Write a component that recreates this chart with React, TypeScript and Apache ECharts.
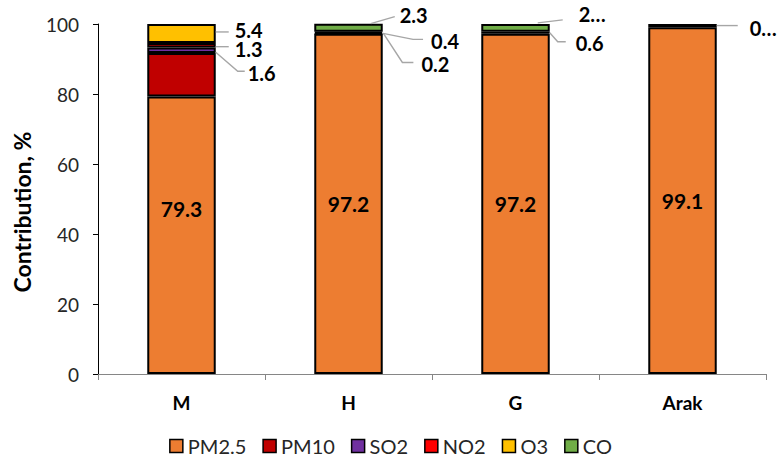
import React, { useEffect, useRef } from 'react';
import * as echarts from 'echarts';

const categories = ['M', 'H', 'G', 'Arak'];
const seriesNames = ['PM2.5', 'PM10', 'SO2', 'NO2', 'O3', 'CO'];
const pm25 = [79.3, 97.2, 97.2, 99.1];
const pm10 = [12.4, 0.2, 0, 0];
const so2 = [1.6, 0, 0, 0];
const no2 = [1.3, 0.4, 0.6, 0];
const o3 = [5.4, 0, 0, 0];
const co = [0, 2.3, 2.2, 0.9];
const seriesValues = [pm25, pm10, so2, no2, o3, co];
const colors = ['#ED7D31', '#C00000', '#7030A0', '#FF0000', '#FFC000', '#70AD47'];

const yMin = 0;
const yMax = 100;
const yStep = 20;

// labels hidden in the reference
const hiddenLabels: Record<string, number[]> = { 'PM10': [0] };
// labels shown truncated ("2…")
const truncatedLabels: Record<string, number[]> = { 'CO': [2, 3] };

// callout placement relative to (bar right edge, segment middle)
type Spot = { at: [number, number]; line: [number, number][] };
const labelSpots: Record<string, Record<number, Spot>> = {
  'SO2': { 0: { at: [32, 23], line: [[0, 2], [22, 21], [29, 21]] } },
  'NO2': {
    0: { at: [19, 3.5], line: [[0, 1.5], [13, 1.5]] },
    1: { at: [48, 9], line: [[0, 1], [30, 7], [40, 7]] },
    2: { at: [26, 10], line: [[0, 0], [8, 9], [16, 9]] },
  },
  'PM10': { 1: { at: [38, 31], line: [[0, 0], [19, 29], [30, 29]] } },
  'O3': { 0: { at: [19, -3], line: [[0, -1.5], [13, -1.5]] } },
  'CO': {
    1: { at: [17, -13], line: [[-12, -4], [12, -11]] },
    2: { at: [29, -14], line: [[-12, -5], [13, -8]] },
    3: { at: [33, 2], line: [[0, 0], [21, 0]] },
  },
};
const insideShift: Record<number, number> = { 0: -27 };

const FONT = 'Lato, "Open Sans", sans-serif';

export default function App() {
  const ref = useRef<HTMLDivElement>(null);

  useEffect(() => {
    if (!ref.current) return;
    const chart = echarts.init(ref.current, null, { renderer: 'svg' });
    const rects: Record<string, { x: number; y: number; width: number; height: number }> = {};

    const series = seriesNames.map((name, si) => {
      const isInside = si === 0;
      const data = seriesValues[si].map((v, i) => {
        if (!v) return '-';
        const hidden = (hiddenLabels[name] || []).includes(i);
        return { value: v, label: { show: !hidden } };
      });
      return {
        name,
        type: 'bar',
        stack: 'total',
        barWidth: '41%',
        data,
        itemStyle: { color: colors[si], borderColor: '#000', borderWidth: 2 },
        label: {
          show: true,
          position: isInside ? 'inside' : 'right',
          fontFamily: FONT,
          fontSize: isInside ? 21 : 20,
          lineHeight: isInside ? 24 : 17,
          fontWeight: 'bold',
          color: '#000',
          formatter: (p: any) => {
            const s = String(p.value);
            if ((truncatedLabels[name] || []).includes(p.dataIndex)) return s.charAt(0) + '…';
            return s;
          },
        },
        labelLayout: (p: any) => {
          if (isInside) {
            const d = insideShift[p.dataIndex];
            return d ? { dy: d } : {};
          }
          const spot = labelSpots[name] && labelSpots[name][p.dataIndex];
          if (!spot) return {};
          rects[name + '-' + p.dataIndex] = { x: p.rect.x, y: p.rect.y, width: p.rect.width, height: p.rect.height };
          const R = p.rect.x + p.rect.width;
          const C = p.rect.y + p.rect.height / 2;
          return { x: R + spot.at[0], y: C + spot.at[1], align: 'left', verticalAlign: 'middle' };
        },
      };
    });

    chart.setOption({
      animation: false,
      grid: { left: 98, right: 15, top: 24, bottom: 89, outerBoundsMode: 'none', containLabel: false },
      legend: {
        data: seriesNames,
        bottom: 2,
        left: 'center',
        icon: 'rect',
        itemWidth: 13,
        itemHeight: 13,
        itemGap: 16,
        itemStyle: { borderColor: '#000', borderWidth: 1.5 },
        textStyle: { fontFamily: FONT, fontSize: 20, color: '#262626' },
      },
      xAxis: {
        type: 'category',
        data: categories,
        axisLine: { lineStyle: { color: '#868686', width: 1 } },
        axisTick: { show: true, length: 6, lineStyle: { color: '#868686' } },
        axisLabel: { fontFamily: FONT, fontSize: 19, fontWeight: 'bold', color: '#000', margin: 19 },
      },
      yAxis: {
        type: 'value',
        min: yMin,
        max: yMax,
        interval: yStep,
        name: 'Contribution, %',
        nameLocation: 'middle',
        nameGap: 65,
        nameTextStyle: { fontFamily: FONT, fontSize: 23, fontWeight: 'bold', color: '#000', padding: [0, 26, 0, 0] },
        axisLine: { show: true, lineStyle: { color: '#000', width: 1 } },
        axisTick: { show: true, length: 5, lineStyle: { color: '#000' } },
        axisLabel: { fontFamily: FONT, fontSize: 19, color: '#262626', margin: 19 },
        splitLine: { show: false },
      },
      series,
    });

    const lines: any[] = [];
    Object.keys(labelSpots).forEach((name) => {
      Object.keys(labelSpots[name]).forEach((k) => {
        const r = rects[name + '-' + k];
        if (!r) return;
        const spot = labelSpots[name][Number(k)];
        const R = r.x + r.width;
        const C = r.y + r.height / 2;
        lines.push({
          type: 'polyline',
          silent: true,
          z: 5,
          shape: { points: spot.line.map(([dx, dy]) => [R + dx, C + dy]) },
          style: { stroke: '#A6A6A6', lineWidth: 1.4, fill: null },
        });
      });
    });
    chart.setOption({ graphic: lines });

    return () => chart.dispose();
  }, []);

  return <div ref={ref} style={{ position: 'absolute', left: 0, top: 0, width: 781, height: 463 }} />;
}
